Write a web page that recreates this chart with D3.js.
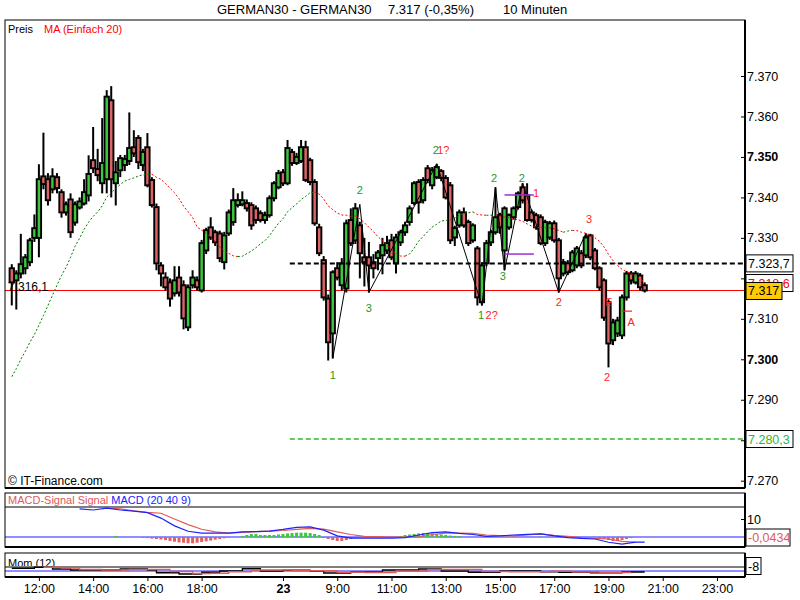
<!DOCTYPE html>
<html><head><meta charset="utf-8">
<script src="https://cdn.jsdelivr.net/npm/d3@7"></script>
<style>
body{margin:0;background:#fff}
svg{display:block}
text{font-family:"Liberation Sans",Arial,Helvetica,sans-serif}
</style>
</head><body>
<svg id="c" width="800" height="600"></svg>
<script>
// ---------------- DATA ----------------
const opens  = [7322.5,7319.5,7321.2,7322.5,7324.0,7330.0,7330.0,7345.2,7344.5,7342.0,7345.0,7341.3,7336.3,7339.5,7333.8,7337.5,7338.5,7340.5,7349.2,7347.0,7343.5,7344.5,7364.0,7343.5,7346.7,7348.0,7349.0,7352.4,7354.7,7348.0,7352.4,7344.3,7337.6,7323.2,7320.2,7319.0,7316.3,7320.2,7318.3,7307.9,7318.3,7319.5,7317.0,7326.9,7332.6,7331.4,7331.1,7324.0,7331.1,7333.9,7338.1,7338.3,7338.6,7338.1,7337.3,7336.1,7334.4,7335.6,7339.8,7342.5,7346.2,7343.5,7351.2,7348.5,7349.0,7352.4,7349.2,7343.8,7332.6,7324.5,7315.0,7306.4,7322.5,7318.3,7317.5,7334.4,7329.4,7333.1,7325.2,7325.2,7324.0,7325.0,7325.7,7326.9,7329.4,7323.7,7328.9,7331.4,7333.9,7338.6,7343.8,7339.3,7347.2,7343.0,7345.0,7346.5,7344.8,7343.0,7330.1,7333.1,7336.3,7333.9,7329.4,7327.4,7314.1,7323.7,7328.9,7331.4,7335.6,7326.9,7332.6,7335.1,7337.6,7342.5,7340.5,7336.3,7335.6,7335.1,7328.7,7330.1,7333.6,7329.4,7321.2,7323.7,7322.0,7323.2,7326.2,7325.7,7330.6,7326.9,7322.5,7319.5,7314.1,7304.7,7306.4,7305.9,7315.3,7321.2,7319.0,7320.7,7318.3];
const highs  = [7323.5,7322.0,7331.0,7326.0,7330.0,7335.8,7348.2,7356.0,7346.0,7347.2,7346.0,7342.0,7339.0,7341.0,7339.0,7340.0,7344.5,7350.4,7357.4,7352.0,7359.6,7366.5,7367.5,7349.0,7350.5,7350.5,7361.0,7356.6,7355.4,7352.0,7355.9,7345.0,7338.5,7324.0,7321.5,7320.0,7323.0,7323.0,7319.5,7318.5,7322.0,7320.5,7329.5,7332.5,7335.1,7332.0,7331.8,7331.5,7337.0,7342.3,7341.0,7341.5,7339.5,7338.8,7338.0,7336.8,7336.5,7340.5,7344.0,7346.8,7347.0,7354.2,7352.0,7351.0,7354.2,7354.0,7349.8,7344.5,7333.5,7325.5,7316.0,7322.0,7324.0,7325.0,7334.5,7337.3,7338.6,7334.0,7330.0,7329.0,7326.0,7327.0,7330.0,7330.5,7331.0,7331.0,7332.0,7334.0,7338.0,7344.0,7344.5,7345.0,7348.0,7347.5,7348.3,7347.0,7345.5,7343.8,7333.0,7337.0,7337.5,7334.5,7333.6,7328.0,7324.0,7329.5,7332.0,7342.5,7336.2,7337.8,7336.0,7337.8,7341.5,7343.5,7343.5,7337.0,7336.2,7335.8,7334.5,7334.2,7334.3,7330.0,7324.8,7324.5,7327.0,7328.0,7327.0,7331.1,7331.0,7327.5,7323.0,7320.0,7314.8,7310.0,7310.5,7316.0,7321.8,7321.8,7321.8,7321.3,7319.0];
const lows   = [7313.3,7312.3,7320.0,7321.0,7323.0,7329.0,7325.2,7342.0,7338.0,7341.0,7341.0,7335.0,7335.5,7330.0,7333.0,7337.0,7338.0,7339.0,7346.0,7344.0,7341.0,7341.0,7340.0,7338.0,7345.0,7346.5,7348.0,7350.0,7347.0,7346.5,7342.5,7337.5,7322.0,7318.0,7317.0,7313.0,7315.5,7315.5,7307.4,7307.0,7317.5,7317.0,7316.5,7326.0,7329.5,7328.0,7324.0,7322.2,7330.5,7333.0,7337.5,7337.8,7336.5,7332.0,7333.5,7333.8,7333.5,7335.0,7339.0,7342.0,7342.8,7343.0,7347.8,7348.0,7348.5,7343.8,7343.0,7333.0,7325.5,7314.5,7299.7,7300.2,7319.5,7317.0,7316.5,7328.0,7328.5,7320.0,7318.0,7316.5,7320.0,7322.0,7321.0,7326.0,7324.5,7321.2,7328.0,7330.5,7333.0,7338.0,7336.0,7338.5,7343.5,7342.0,7344.5,7344.0,7339.5,7328.5,7328.0,7332.5,7332.5,7328.0,7328.8,7313.3,7313.3,7323.0,7328.0,7330.8,7331.0,7322.0,7332.0,7334.5,7337.0,7338.5,7334.0,7333.8,7332.0,7328.2,7328.0,7329.5,7328.8,7316.5,7320.5,7320.8,7321.5,7322.5,7322.5,7325.0,7324.5,7322.0,7317.0,7309.5,7298.0,7303.5,7305.5,7305.0,7314.5,7318.5,7318.5,7317.0,7316.5];
const closes = [7319.0,7321.2,7323.5,7325.2,7329.4,7332.4,7344.5,7343.3,7339.3,7345.2,7342.3,7336.3,7338.3,7331.4,7338.3,7339.0,7341.3,7345.8,7347.2,7345.5,7348.5,7364.9,7344.5,7346.2,7349.7,7349.5,7352.2,7350.9,7348.7,7351.2,7343.0,7338.1,7323.7,7321.2,7317.8,7315.0,7319.5,7316.5,7310.1,7317.8,7320.2,7317.8,7328.7,7331.9,7330.1,7328.9,7325.0,7330.6,7336.3,7339.3,7339.3,7339.3,7337.3,7333.1,7334.4,7334.4,7335.6,7339.8,7343.5,7346.0,7343.5,7352.2,7348.5,7350.0,7352.4,7344.3,7343.8,7333.6,7326.2,7315.3,7304.2,7321.5,7320.2,7323.7,7333.6,7328.7,7337.3,7326.2,7324.0,7323.2,7322.5,7326.4,7328.2,7328.7,7325.2,7330.1,7331.4,7333.1,7337.3,7343.5,7338.8,7344.3,7344.3,7346.7,7347.5,7344.8,7340.0,7329.4,7332.4,7336.3,7333.1,7328.7,7333.1,7315.3,7323.2,7328.7,7331.4,7335.1,7332.6,7337.3,7335.6,7337.3,7341.0,7339.3,7334.4,7334.4,7332.6,7328.7,7333.9,7333.6,7329.4,7320.0,7324.0,7321.5,7326.4,7327.4,7323.2,7330.1,7325.2,7322.5,7317.8,7310.3,7303.9,7309.1,7309.6,7315.3,7321.2,7319.5,7321.2,7317.8,7317.0];
// MA (Einfach 20): first 19 values (earlier bars not shown)
const maLead = [7295.7,7297.7,7300.0,7302.0,7304.2,7306.1,7308.4,7310.8,7313.3,7315.8,7318.3,7320.7,7322.7,7325.2,7327.9,7329.9,7332.1,7333.9,7335.3];
const maPeriod = 20;

const priceTicks = [7270,7280,7290,7300,7310,7320,7330,7340,7350,7360,7370];
const boldPriceTicks = [7300,7350];
const hiddenPriceLabels = [7280,7320]; // covered by the value boxes in the chart
const timeTickSlots  = [6,18,30,42,60,72,84,96,108,120,132,144,156];
const timeTickLabels = ["12:00","14:00","16:00","18:00","23","9:00","11:00","13:00","15:00","17:00","19:00","21:00","23:00"];
const boldTimeTicks = ["23"];

const lastPrice = 7317.0;
const maLastLabel = 7318.6;
const upperLevel = 7323.7;
const lowerLevel = 7280.3;
const levelStartSlot = 61.5;

// MACD (20 40 9)
const macdSlots  = [15,18,21,24,27,30,33,36,39,42,45,48,51,54,57,60,63,66,69,72,75,78,81,84,87,90,93,96,99,102,105,108,111,114,117,120,123,126,129,132,135,138,140];
const macdValues = [15.6,15.0,16.0,15.0,14.4,13.5,10.5,6.2,3.2,2.2,2.2,2.2,2.8,3.0,3.3,4.2,5.3,5.6,3.8,0.6,-0.6,-0.6,-0.6,-0.6,-0.3,1.1,2.4,2.8,2.0,1.4,0.3,0.6,1.1,1.5,1.7,0.6,-0.3,-0.8,-1.1,-2.9,-3.9,-2.8,-2.8];
const signalSlots  = [21,24,27,30,33,36,39,42,45,48,51,54,57,60,63,66,69,72,75,78,81,84,87,90,93,96,99,102,105,108,111,114,117,120,123,126,129,132,135,138];
const signalValues = [16.1,15.6,14.5,13.7,13.2,10.0,6.9,4.3,2.8,2.2,2.6,3.0,3.3,3.6,4.2,4.8,4.4,2.8,1.4,0.4,0.2,0,0,0,1.4,2.2,2.2,2.0,1.1,0.8,0.6,1.1,1.7,0.9,0.3,-0.4,-0.8,-1.1,-2.4,-2.8];
const histSlots  = [23,29,30,31,32,33,34,35,36,37,38,39,40,41,42,43,44,45,46,47,48,51,52,53,54,55,56,57,58,59,60,61,62,63,64,65,66,67,68,69,70,71,72,73,74,75,76,86,87,88,89,90,91,92,93,94,95,96,97,98,99,117,130,131,132,133,134,135,136,137];
const histValues = [0.6,-0.4,-0.6,-0.9,-1.1,-1.4,-1.7,-2.2,-2.6,-3.0,-3.2,-3.5,-3.5,-3.2,-2.8,-2.4,-2.0,-1.5,-1.1,-0.7,-0.4,0.6,1.1,1.7,1.7,1.1,1.1,1.1,1.1,1.4,1.7,2.0,2.2,2.4,2.4,2.4,2.2,1.7,1.1,-0.6,-1.1,-1.7,-2.2,-2.2,-1.7,-1.1,-0.6,0.6,1.1,1.4,1.7,2.0,2.2,2.2,2.0,1.7,1.4,1.1,0.8,0.6,0.4,0.4,-0.6,-1.1,-1.7,-2.2,-2.2,-1.7,-1.1,-0.6];
const macdTickValue = 10;
const macdLastLabel = "-0,0434";

// Mom (12)
const momSlots  = [0,5,9,13,18,24,30,32,37,42,46,51,55,60,66,69,75,82,90,95,101,108,117,121,128,135,140];
const momValues = [11,15,8,4,4,8,4,-7,-12,-5,0,9,0,3,0,-8,-4,4,8,0,-5,0,-3,-5,-7,-4,-4];
const momSigSlots  = [7,11,15,20,26,32,35,40,44,48,53,58,62,68,72,78,85,92,97,104,110,119,124,130,137];
const momSigValues = [15,12,6,4,6,6,-2,-10,-9,-3,4,4,1,1,-5,-6,0,6,6,-2,-3,-1,-4,-6,-6];
const momLastLabel = "-8";

// Elliott-type zigzag pivots and labels
const pivotSlots  = [71,77,79,94,104,107,109,113,121,127];
const pivotPrices = [7300.2,7338.3,7316.5,7348.3,7313.3,7342.5,7322.0,7343.5,7316.5,7331.1];
const waveText   = ["1","2","3","2","1?","1","2?","2","3","2","1","2","3","E","A","2"];
const waveColor  = ["g","g","g","g","r","g","r","g","g","g","r","r","r","r","r","r"];
const waveSlot   = [71,77,79,93.8,94.1,103.8,104.8,106.7,108.6,112.8,116,121,127.7,132.1,137,131.7];
const wavePrice  = [7296.1,7341.8,7312.7,7351.7,7351.6,7311.0,7311.0,7344.8,7320.6,7344.8,7341.1,7314.2,7334.7,7314.2,7309.2,7295.6];
const purpleLevels = [7340.6,7326.0];
const purpleFrom = 109, purpleTo = 115.5;
const redMarkPrice = 7311.9, redMarkFrom = 135, redMarkTo = 137.2;

// ---------------- DRAW ----------------
const svg = d3.select("#c");
const L = 5, R = 745;
const x = d3.scaleLinear().domain([-1.5, 162.2]).range([L, R]);
const y = d3.scaleLinear().domain([7270, 7370]).range([480.7, 76]);
const yMacd = d3.scaleLinear().domain([0, 10]).range([537, 519]);
const yMom = d3.scaleLinear().domain([0, 16]).range([571, 567]);
const loc = d3.formatLocale({decimal: ",", thousands: ".", grouping: [3], currency: ["", "€"]});
const fInt = loc.format(",d"), f1 = loc.format(",.1f");

const GREEN = "#3cc83c", RED = "#dc6464";
const LBL_G = "#1e9a1e", LBL_R = "#ff1e1e";

svg.append("rect").attr("width", 800).attr("height", 600).attr("fill", "#fff");

// title
const title = svg.append("g").attr("font-size", 13).attr("fill", "#000");
title.append("text").attr("x", 217).attr("y", 14).text("GERMAN30 - GERMAN30");
title.append("text").attr("x", 388).attr("y", 14).text(fInt(lastPrice) + " (-0,35%)");
title.append("text").attr("x", 503).attr("y", 14).text("10 Minuten");

// panels
const panels = [[20, 488], [493, 547], [553, 577]];
const defs = svg.append("defs");
defs.append("clipPath").attr("id", "mainClip").append("rect").attr("x", L).attr("y", 20).attr("width", R - L).attr("height", 468);
defs.append("clipPath").attr("id", "momTxt").append("rect").attr("x", L).attr("y", 553).attr("width", 200).attr("height", 13);

const main = svg.append("g").attr("clip-path", "url(#mainClip)");

// current price line
main.append("line").attr("x1", L).attr("x2", R).attr("y1", y(lastPrice)).attr("y2", y(lastPrice))
  .attr("stroke", "#ff0000").attr("stroke-width", 1);

// candles
const idx = d3.range(closes.length);
const cg = main.append("g");
idx.forEach(i => {
  const up = closes[i] >= opens[i];
  cg.append("line").attr("x1", x(i)).attr("x2", x(i)).attr("y1", y(highs[i])).attr("y2", y(lows[i]))
    .attr("stroke", "#000").attr("stroke-width", 2);
  const top = y(Math.max(opens[i], closes[i])), bot = y(Math.min(opens[i], closes[i]));
  cg.append("rect").attr("x", x(i) - 2.2).attr("width", 4.4).attr("y", top).attr("height", Math.max(bot - top, 1.5))
    .attr("fill", up ? GREEN : RED).attr("stroke", "#000").attr("stroke-width", 1.9);
});

// level lines
main.append("line").attr("x1", x(levelStartSlot)).attr("x2", R).attr("y1", y(upperLevel)).attr("y2", y(upperLevel))
  .attr("stroke", "#000").attr("stroke-width", 2).attr("stroke-dasharray", "5,3");
main.append("line").attr("x1", x(levelStartSlot)).attr("x2", R).attr("y1", y(lowerLevel)).attr("y2", y(lowerLevel))
  .attr("stroke", "#2eb82e").attr("stroke-width", 1.5).attr("stroke-dasharray", "5,3");

// moving average
const ma = idx.map(i => i < maLead.length ? maLead[i] : d3.mean(closes.slice(i - maPeriod + 1, i + 1)));
let runs = [], cur = null;
for (let i = 1; i < ma.length; i++) {
  const col = ma[i] >= ma[i - 1] ? "#007a00" : "#ff0000";
  if (!cur || cur.col !== col) { cur = {col, pts: [[i - 1, ma[i - 1]]]}; runs.push(cur); }
  cur.pts.push([i, ma[i]]);
}
const maLine = d3.line().x(d => x(d[0])).y(d => y(d[1]));
runs.forEach(r => main.append("path").attr("d", maLine(r.pts)).attr("fill", "none")
  .attr("stroke", r.col).attr("stroke-width", 1).attr("stroke-dasharray", "2,2"));

// zigzag
const zz = pivotSlots.map((s, i) => [s, pivotPrices[i]]);
main.append("path").attr("d", maLine(zz)).attr("fill", "none").attr("stroke", "#000").attr("stroke-width", 1);

// purple lines & red mark
purpleLevels.forEach(p => main.append("line").attr("x1", x(purpleFrom)).attr("x2", x(purpleTo))
  .attr("y1", y(p)).attr("y2", y(p)).attr("stroke", "#9b30d0").attr("stroke-width", 1.5));
main.append("line").attr("x1", x(redMarkFrom)).attr("x2", x(redMarkTo)).attr("y1", y(redMarkPrice)).attr("y2", y(redMarkPrice))
  .attr("stroke", "#ff1e1e").attr("stroke-width", 1.2);

// wave labels
waveText.forEach((t, i) => {
  const anchorStart = (t === "1?" || t === "2?");
  main.append("text").attr("x", x(waveSlot[i])).attr("y", y(wavePrice[i]) + 4)
    .attr("text-anchor", anchorStart ? "start" : "middle").attr("font-size", 11)
    .attr("fill", waveColor[i] === "g" ? LBL_G : LBL_R).text(t);
});

// left value text
main.append("text").attr("x", 8).attr("y", 291).attr("font-size", 12).attr("fill", "#000").text("7.316,1");
// copyright
svg.append("text").attr("x", 8).attr("y", 485).attr("font-size", 12).attr("fill", "#000").text("© IT-Finance.com");

// legend
svg.append("text").attr("x", 8).attr("y", 33).attr("font-size", 11).attr("fill", "#000").text("Preis");
svg.append("text").attr("x", 44).attr("y", 33).attr("font-size", 11).attr("fill", "#ff0000").text("MA (Einfach 20)");

// ---- MACD panel ----
const mg = svg.append("g");
mg.append("line").attr("x1", L).attr("x2", R).attr("y1", 507).attr("y2", 507).attr("stroke", "#000").attr("stroke-width", 1.2);
mg.append("line").attr("x1", L).attr("x2", R).attr("y1", yMacd(0)).attr("y2", yMacd(0)).attr("stroke", "#2020ff").attr("stroke-width", 1.2);
histSlots.forEach((s, i) => {
  const v = histValues[i];
  mg.append("rect").attr("x", x(s) - 1.5).attr("width", 3)
    .attr("y", Math.min(yMacd(0), yMacd(v))).attr("height", Math.abs(yMacd(v) - yMacd(0)))
    .attr("fill", v >= 0 ? "#3cc83c" : "#e06060");
});
const lm = d3.line().x(d => x(d[0])).y(d => yMacd(d[1]));
mg.append("path").attr("d", lm(signalSlots.map((s, i) => [s, signalValues[i]]))).attr("fill", "none").attr("stroke", "#e05a5a").attr("stroke-width", 1.2);
mg.append("path").attr("d", lm(macdSlots.map((s, i) => [s, macdValues[i]]))).attr("fill", "none").attr("stroke", "#2020ff").attr("stroke-width", 1.2);
const ml = mg.append("text").attr("x", 8).attr("y", 504).attr("font-size", 11);
ml.append("tspan").attr("fill", "#e05a5a").text("MACD-Signal Signal ");
ml.append("tspan").attr("fill", "#2020ff").text("MACD (20 40 9)");

// ---- Mom panel ----
const og = svg.append("g");
og.append("line").attr("x1", L).attr("x2", R).attr("y1", 567).attr("y2", 567).attr("stroke", "#000").attr("stroke-width", 1.2);
og.append("line").attr("x1", L).attr("x2", R).attr("y1", yMom(0)).attr("y2", yMom(0)).attr("stroke", "#2020ff").attr("stroke-width", 1.2);
const lmo = d3.line().x(d => x(d[0])).y(d => yMom(d[1])).curve(d3.curveStepAfter);
og.append("path").attr("d", lmo(momValues.map((v, i) => [momSlots[i], v]))).attr("fill", "none").attr("stroke", "#000").attr("stroke-width", 1.3);
og.append("path").attr("d", lmo(momSigValues.map((v, i) => [momSigSlots[i], v]))).attr("fill", "none").attr("stroke", "#e05a5a").attr("stroke-width", 1.3);
og.append("text").attr("clip-path", "url(#momTxt)").attr("x", 8).attr("y", 567).attr("font-size", 11).attr("fill", "#000").text("Mom (12)");

// panel frames
panels.forEach(([t, b]) => {
  svg.append("rect").attr("x", L).attr("y", t).attr("width", R - L).attr("height", b - t)
    .attr("fill", "none").attr("stroke", "#000").attr("stroke-width", 1);
  svg.append("line").attr("x1", R).attr("x2", R).attr("y1", t).attr("y2", b).attr("stroke", "#000").attr("stroke-width", 2);
  svg.append("line").attr("x1", L).attr("x2", R).attr("y1", b).attr("y2", b).attr("stroke", "#000").attr("stroke-width", 2);
});

// price axis
const ya = svg.append("g").attr("transform", `translate(${R},0)`)
  .call(d3.axisRight(y).tickValues(priceTicks).tickSize(-4).tickPadding(2)
    .tickFormat(d => hiddenPriceLabels.includes(d) ? "" : fInt(d)));
ya.select(".domain").remove();
ya.selectAll("text").attr("font-size", 12.5).attr("font-family", "Liberation Sans, Arial, sans-serif").attr("fill", "#000")
  .attr("font-weight", d => boldPriceTicks.includes(d) ? "bold" : "normal");
ya.selectAll("line").attr("stroke", "#000");

// MACD axis
const ma2 = svg.append("g").attr("transform", `translate(${R},0)`)
  .call(d3.axisRight(yMacd).tickValues([macdTickValue]).tickSize(-4).tickPadding(2).tickFormat(d3.format("d")));
ma2.select(".domain").remove();
ma2.selectAll("text").attr("font-size", 12.5).attr("font-family", "Liberation Sans, Arial, sans-serif").attr("fill", "#000");

// time axis
const xa = svg.append("g").attr("transform", "translate(0,577)")
  .call(d3.axisBottom(x).tickValues(timeTickSlots).tickSize(4).tickPadding(3).tickFormat((d, i) => timeTickLabels[i]));
xa.select(".domain").remove();
xa.selectAll("text").attr("font-size", 12.5).attr("font-family", "Liberation Sans, Arial, sans-serif").attr("fill", "#000")
  .attr("font-weight", (d, i) => boldTimeTicks.includes(timeTickLabels[i]) ? "bold" : "normal");

// right value boxes
function box(yc, txt, col, fill, w) {
  const g = svg.append("g");
  const h = 17;
  g.append("rect").attr("x", 746).attr("y", yc - h / 2).attr("width", w).attr("height", h)
    .attr("fill", fill).attr("stroke", "#000").attr("stroke-width", 1);
  g.append("text").attr("x", 748).attr("y", yc + 4.5).attr("font-size", 12.5).attr("fill", col).text(txt);
}
box(y(upperLevel), f1(upperLevel), "#000", "#fff", 47);
box(y(maLastLabel) - 1, f1(maLastLabel), "#ff0000", "#fff", 47);
box(y(lastPrice) + 0.5, fInt(lastPrice), "#000", "#ffcc00", 36);
box(y(lowerLevel), f1(lowerLevel), "#2eb82e", "#fff", 47);
box(yMacd(0) + 0.5, macdLastLabel, "#e05a5a", "#fff", 44);
box(566, momLastLabel, "#000", "#fff", 15);
</script>
</body></html>
